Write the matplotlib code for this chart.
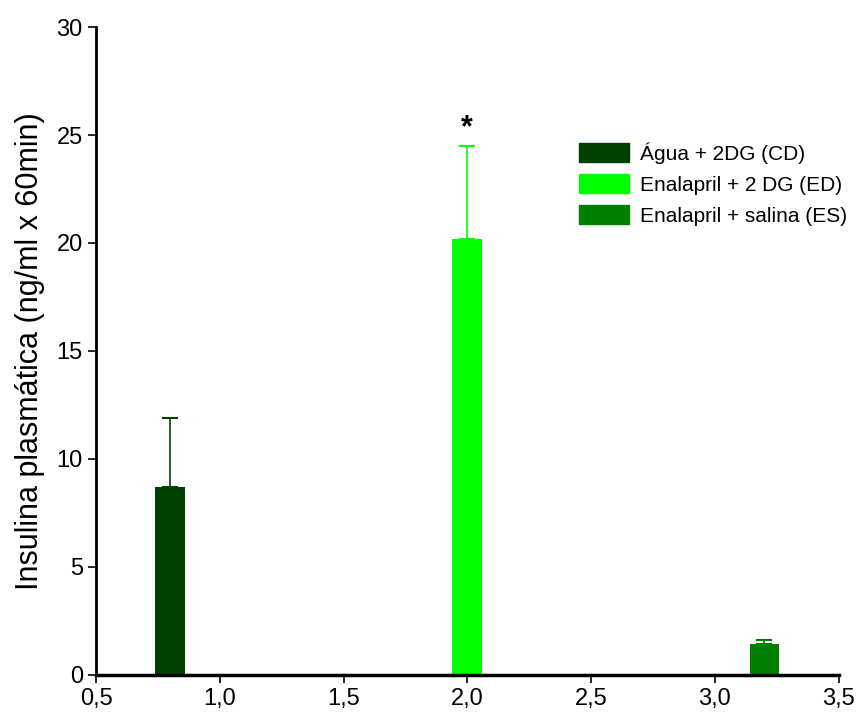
import matplotlib.pyplot as plt
from matplotlib.patches import Patch

plt.rcParams['font.family'] = ['Liberation Sans', 'DejaVu Sans']

groups = ['Água + 2DG (CD)', 'Enalapril + 2 DG (ED)', 'Enalapril + salina (ES)']
x_pos = [0.8, 2.0, 3.2]
means = [8.7, 20.2, 1.45]
errors = [3.2, 4.3, 0.15]
colors = ['#004000', '#00ff00', '#008000']

fig = plt.figure(figsize=(8.61, 7.24), dpi=100)
ax = fig.add_axes([0.1115, 0.0677, 0.8625, 0.895])

for x, m, e, c in zip(x_pos, means, errors, colors):
    ax.bar(x, m, width=0.12, color=c, zorder=2)
    ax.errorbar(x, m, yerr=[[0], [e]], color=c, capsize=6, elinewidth=1.2,
                capthick=1.5, fmt='none', zorder=1)

# significance mark
ax.text(2.0, means[1] + errors[1] + 0.1, '*', ha='center', va='bottom',
        fontsize=22, fontweight='bold')

ax.set_xlim(0.5, 3.5)
ax.set_ylim(0, 30)
ax.set_xticks([0.5, 1.0, 1.5, 2.0, 2.5, 3.0, 3.5])
ax.set_xticklabels(['0,5', '1,0', '1,5', '2,0', '2,5', '3,0', '3,5'])
ax.set_yticks([0, 5, 10, 15, 20, 25, 30])
ax.tick_params(labelsize=17, width=1.2, length=6, direction='out')
ax.set_ylabel('Insulina plasmática (ng/ml x 60min)', fontsize=22, labelpad=8)

ax.spines['top'].set_visible(False)
ax.spines['right'].set_visible(False)
ax.spines['left'].set_linewidth(2)
ax.spines['bottom'].set_linewidth(2.5)

handles = [Patch(color=c) for c in colors]
ax.legend(handles, groups, loc='upper left', bbox_to_anchor=(0.651, 0.822),
          frameon=False, fontsize=15, handlelength=2.4, handleheight=1.0,
          labelspacing=0.5, handletextpad=0.5, borderpad=0, borderaxespad=0)

plt.savefig('out.png')
